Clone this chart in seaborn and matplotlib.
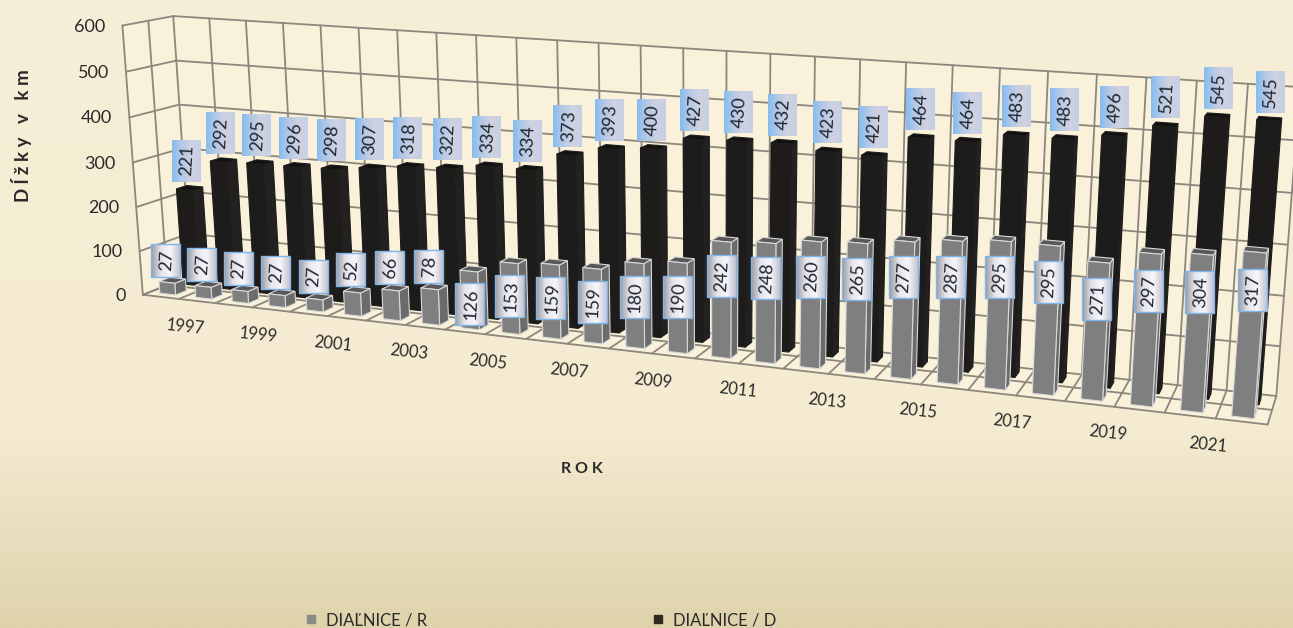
import numpy as np
import pandas as pd
import seaborn as sns
import matplotlib.pyplot as plt
from matplotlib.colors import LinearSegmentedColormap
from matplotlib.patches import Polygon, Rectangle
from matplotlib.lines import Line2D
from matplotlib.transforms import Transform

# data
years = list(range(1997, 2023))
tick_years = list(range(1997, 2022, 2))
dialnice_r = [27, 27, 27, 27, 27, 52, 66, 78, 126, 153, 159, 159, 180,
              190, 242, 248, 260, 265, 277, 287, 295, 295, 271, 297, 304, 317]
dialnice_d = [221, 292, 295, 296, 298, 307, 318, 322, 334, 334, 373, 393, 400,
              427, 430, 432, 423, 421, 464, 464, 483, 483, 496, 521, 545, 545]
y_ticks = [0, 100, 200, 300, 400, 500, 600]

W, H = 1293, 628
N = len(years)

# camera: box corners (slot, depth, km) and where they land in the picture
box_pts = np.array([(0, 0, 0), (0, 0, 600), (0, 1, 600), (0, 1, 0), (N, 0, 0),
                    (N, 1, 0), (N, 1, 600), (24, 1, 600), (12, 1, 600)], float)
pix_pts = np.array([(142, 293), (123, 27), (173, 14), (192, 278), (1268, 425),
                    (1276, 395), (1300, 88), (1197, 80), (640, 46)], float)


def fit_camera(box, pix):
    rows, rhs = [], []
    for (x, y, z), (u, v) in zip(box, pix):
        rows.append([x, y, z, 1, 0, 0, 0, 0, -u * x, -u * y, -u * z])
        rows.append([0, 0, 0, 0, x, y, z, 1, -v * x, -v * y, -v * z])
        rhs += [u, v]
    sol = np.linalg.lstsq(np.array(rows), np.array(rhs), rcond=None)[0]
    return np.append(sol, 1).reshape(3, 4)


CAM = fit_camera(box_pts, pix_pts)


def proj(x, y, z):
    x, y, z = np.broadcast_arrays(np.asarray(x, float), np.asarray(y, float), np.asarray(z, float))
    p = CAM @ np.stack([x, y, z, np.ones_like(x)])
    return p[0] / p[2], p[1] / p[2]


class DepthPlane(Transform):
    """(slot, km) at a fixed depth -> picture pixels"""
    input_dims = 2
    output_dims = 2

    def __init__(self, plane_y):
        super().__init__()
        self.plane_y = plane_y

    def transform_non_affine(self, xy):
        u, v = proj(xy[:, 0], self.plane_y, xy[:, 1])
        return np.column_stack([u, v])


sns.set_theme(style='white')
plt.rcParams['font.family'] = ['Lato', 'DejaVu Sans']

fig = plt.figure(figsize=(W / 100, H / 100), dpi=100)
ax = fig.add_axes([0, 0, 1, 1])

bg = LinearSegmentedColormap.from_list('bg', [(0, '#f6eed7'), (0.68, '#f4ebd1'), (0.85, '#e9dfbf'), (1, '#ded3ab')])
ax.imshow(np.linspace(0, 1, 256)[:, None], cmap=bg, extent=(0, W, H, 0), aspect='auto', zorder=0)

# walls and floor
wall_col = '#f9f1da'
ax.add_patch(Polygon(np.column_stack(proj([0, N, N, 0], 1, [0, 0, 600, 600])), fc=wall_col, ec='none', zorder=1))
ax.add_patch(Polygon(np.column_stack(proj(0, [0, 1, 1, 0], [0, 0, 600, 600])), fc=wall_col, ec='none', zorder=1))
ax.add_patch(Polygon(np.column_stack(proj([0, N, N, 0], [0, 0, 1, 1], 0)), fc=wall_col, ec='none', zorder=1))

grid_kw = dict(color='#8c877c', lw=1.3, zorder=2, solid_capstyle='round')
for z in y_ticks:
    ax.plot(*proj([0, N], 1, z), **grid_kw)
    ax.plot(*proj(0, [0, 1], z), **grid_kw)
for x in range(N + 1):
    ax.plot(*proj(x, 1, [0, 600]), **grid_kw)
    ax.plot(*proj(x, [0, 1], 0), **grid_kw)
ax.plot(*proj(0, 0, [0, 600]), **grid_kw)
ax.plot(*proj(0, 0.5, [0, 600]), **grid_kw)
ax.plot(*proj([0, N], 0, 0), **grid_kw)
ax.plot(*proj([0, N], 0.5, 0), **grid_kw)

# bars, far row first
BAR_W = 0.44
rows = [
    dict(vals=dialnice_d, y0=0.62, y1=0.84, front='#1d1c1b', side='#232120', top='#111111', edge='#1d1c1b', z=3),
    dict(vals=dialnice_r, y0=0.14, y1=0.36, front='#7f7f7f', side='#6b6b6b', top='#585858', edge='#d8d8d8', z=5),
]
for row in rows:
    df = pd.DataFrame({'slot': np.arange(N) + 0.5, 'km': row['vals']})
    before = len(ax.patches)
    sns.barplot(data=df, x='slot', y='km', native_scale=True, width=BAR_W, color=row['front'],
                saturation=1, ax=ax, zorder=row['z'] + 1, edgecolor=row['edge'], linewidth=0.8)
    plane = DepthPlane(row['y0']) + ax.transData
    bars = list(ax.patches[before:])
    for bar in bars:
        bar.set_transform(plane)
        x1 = bar.get_x() + bar.get_width()
        x0 = bar.get_x()
        h = bar.get_height()
        side = np.column_stack(proj(x1, [row['y0'], row['y1'], row['y1'], row['y0']], [0, 0, h, h]))
        top = np.column_stack(proj([x0, x1, x1, x0], [row['y0'], row['y0'], row['y1'], row['y1']], h))
        ax.add_patch(Polygon(side, fc=row['side'], ec=row['edge'], lw=0.8, zorder=row['z']))
        ax.add_patch(Polygon(top, fc=row['top'], ec=row['edge'], lw=0.8, zorder=row['z']))

# data labels
d_grad = LinearSegmentedColormap.from_list('dl', ['#86bcf0', '#b5c9e6', '#cfd2e2', '#c6cfe4'])
r_grad = LinearSegmentedColormap.from_list('rl', ['#9a9aa2', '#e4e4ec', '#f6f6fb', '#c4c4d2'])
ramp = np.linspace(0, 1, 64)[None, :]


def value_label(cx, cy, val, cmap, border):
    w = 29
    h = 15 + 9 * len(str(val))
    ax.imshow(ramp, cmap=cmap, extent=(cx - w / 2, cx + w / 2, cy + h / 2, cy - h / 2), aspect='auto', zorder=8)
    if border:
        ax.add_patch(Rectangle((cx - w / 2, cy - h / 2), w, h, fc='none', ec='#7fb6ea', lw=1, zorder=9))
    ax.text(cx + 1, cy, str(val), rotation=87, ha='center', va='center', fontsize=13,
            color='#20242c', zorder=10)


for i, val in enumerate(dialnice_d):
    u, v = proj(i + 0.5, 0.62, val)
    value_label(float(u) + 2, float(v) - 29, val, d_grad, False)
for i, val in enumerate(dialnice_r):
    # short bars carry the label above them, tall bars across the upper part
    label_km = val + 50 if val < 100 else val - 72
    u, v = proj(i + 0.5, 0.14, label_km)
    value_label(float(u), float(v), val, r_grad, True)

# axis text
for z in y_ticks:
    u, v = proj(0, 0, z)
    ax.text(float(u) - 17, float(v) + 1, str(z), ha='right', va='center', fontsize=13, color='#2a2a2a')
for yr in tick_years:
    i = yr - 1997
    u, v = proj(i + 0.5 + 0.68 - 0.33 * i / 24, 0, 0)
    ax.text(float(u), float(v) + 27, str(yr), rotation=-6, ha='center', va='center', fontsize=12, color='#2a2a2a')

ax.text(22, 136, 'D ĺ ž k y   v   k m', rotation=90, ha='center', va='center', fontsize=13.5,
        fontweight='bold', color='#2a2a2a')
ax.text(582, 469, 'R O K', ha='center', va='center', fontsize=11.5, fontweight='bold', color='#2a2a2a')

handles = [Line2D([], [], ls='', marker='s', ms=6, color='#8a8a88'),
           Line2D([], [], ls='', marker='s', ms=6, color='#2e2a22')]
ax.legend(handles, ['DIAĽNICE / R', 'DIAĽNICE / D'], ncol=2, frameon=False, fontsize=12,
          labelcolor='#2a2a2a', columnspacing=12.9, handletextpad=-0.1, loc='center left',
          bbox_to_anchor=(279 / W, 1 - 620 / H))

ax.set_xlim(0, W)
ax.set_ylim(H, 0)
ax.axis('off')

fig.savefig('out.png', dpi=100)
plt.close(fig)
